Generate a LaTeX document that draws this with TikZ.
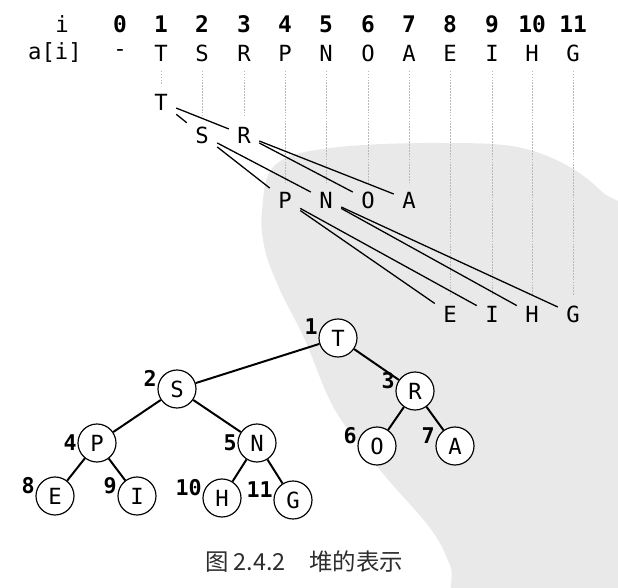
\documentclass[tikz,border=0pt]{standalone}
\usepackage{fontspec}
\setmonofont{DejaVu Sans Mono}
\newfontfamily\cjk{Noto Sans CJK SC}
\usepackage{tikz}
\usetikzlibrary{backgrounds}
\definecolor{WMGray}{RGB}{233,233,233}
\definecolor{GuideGray}{RGB}{185,185,185}
\definecolor{CapGray}{RGB}{45,45,45}

\begin{document}
\begin{tikzpicture}[x=0.03cm, y=-0.03cm,
            hdr/.style={font=\fontsize{19.5}{21}\selectfont\ttfamily\bfseries,
                        inner sep=0pt},
            cell/.style={font=\fontsize{19}{21}\selectfont\ttfamily,
                         minimum width=0.9cm, minimum height=1.05cm, inner sep=0pt},
            link/.style={line width=1.1pt},
            guide/.style={draw=GuideGray, line width=0.6pt,
                          dash pattern=on 1.5pt off 1pt},
            heap/.style={circle, draw, line width=1pt, fill=white,
                         minimum size=1.14cm, inner sep=0pt,
                         font=\fontsize{19}{21}\selectfont\ttfamily},
            num/.style={font=\fontsize{18.5}{20}\selectfont\ttfamily\bfseries,
                        inner sep=0.5pt, label distance=0pt},
            edge/.style={line width=1.7pt}
          ]
          \useasboundingbox (0,0) rectangle (618,587);

          % scan watermark
          \fill[WMGray] plot[smooth cycle, tension=0.6] coordinates
                {(262,210) (275,165) (330,148) (440,143) (530,150) (600,190)
                 (640,260) (640,620) (470,620) (450,565) (430,528) (380,470)
                 (335,410) (305,340) (280,290) (265,250)};

          % array rows
          \node[hdr, font=\fontsize{19}{21}\selectfont\ttfamily] (hi) at (62,24) {i};
          \node[cell] (ai) at (55,53) {a[i]};
          \node[hdr] (h0) at (120,24) {0};
          \node[cell] (a0) at (120,53) {-};
          \foreach \k/\px/\ch/\py in {1/161/T/102, 2/202/S/135, 3/244/R/135,
                    4/285/P/200, 5/326/N/200, 6/368/O/200, 7/409/A/200,
                    8/450/E/314, 9/492/I/314, 10/532/H/314, 11/573/G/314}{
            \node[hdr] (h\k) at (\px,24) {\k};
            \node[cell] (a\k) at (\px,53) {\ch};
            \node[cell] (s\k) at (\px,\py) {\ch};
            \draw[guide] (a\k) -- (s\k);
          }

          % levels
          \draw[link] (s1) -- (s2);
          \draw[link] (s1) -- (s3);
          \draw[link] (s2) -- (s4);
          \draw[link] (s2) -- (s5);
          \draw[link] (s3) -- (s6);
          \draw[link] (s3) -- (s7);
          \draw[link] (s4) -- (s8);
          \draw[link] (s4) -- (s9);
          \draw[link] (s5) -- (s10);
          \draw[link] (s5) -- (s11);

          % heap tree
          \node[heap, label={[num]172:1}]  (t1)  at (338,338) {T};
          \node[heap, label={[num]175:2}]  (t2)  at (177,389) {S};
          \node[heap, label={[num]175:3}]  (t3)  at (415,391) {R};
          \node[heap, label={[num]178:4}]  (t4)  at (97,443)  {P};
          \node[heap, label={[num]178:5}]  (t5)  at (257,443) {N};
          \node[heap, label={[num]175:6}]  (t6)  at (377,446) {O};
          \node[heap, label={[num]175:7}]  (t7)  at (455,446) {A};
          \node[heap, label={[num]175:8}]  (t8)  at (55,496)  {E};
          \node[heap, label={[num]175:9}]  (t9)  at (137,496) {I};
          \node[heap, label={[num]175:10}] (t10) at (222,498) {H};
          \node[heap, label={[num]175:11}] (t11) at (293,500) {G};
          \draw[edge] (t1) -- (t2);
          \draw[edge] (t1) -- (t3);
          \draw[edge] (t2) -- (t4);
          \draw[edge] (t2) -- (t5);
          \draw[edge] (t3) -- (t6);
          \draw[edge] (t3) -- (t7);
          \draw[edge] (t4) -- (t8);
          \draw[edge] (t4) -- (t9);
          \draw[edge] (t5) -- (t10);
          \draw[edge] (t5) -- (t11);

          \node[font=\cjk\fontsize{20}{24}\selectfont, text=CapGray, inner sep=0pt]
                (cap) at (304,562) {图 2.4.2\hspace{1em}堆的表示};
        \end{tikzpicture}
\end{document}
